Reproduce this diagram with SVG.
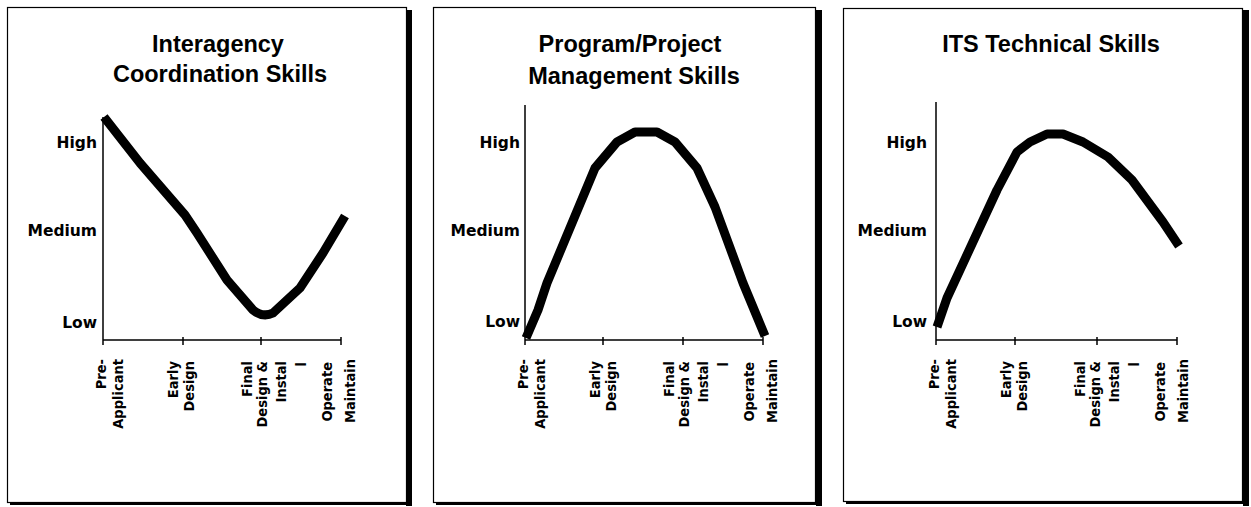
<svg xmlns="http://www.w3.org/2000/svg" width="1251" height="507" viewBox="0 0 1251 507">
<style>
.panel{fill:#fff;stroke:#000;stroke-width:1.2}
.shadow{fill:#000}
.title{font-family:"Liberation Sans",Arial,sans-serif;font-weight:bold;font-size:23.5px;text-anchor:middle;fill:#000}
.ylab{font-family:"DejaVu Sans",sans-serif;font-weight:bold;font-size:15.5px;text-anchor:end;fill:#000}
.xlab{font-family:"DejaVu Sans Condensed","DejaVu Sans",sans-serif;font-stretch:condensed;font-weight:bold;font-size:14.5px;text-anchor:end;fill:#000}
.axis{stroke:#000;stroke-width:1.5;fill:none}
.curve{stroke:#000;stroke-width:9;fill:none;stroke-linejoin:round;stroke-linecap:butt}
</style>
<rect width="1251" height="507" fill="#fff"/>

<g id="panel1">
  <rect class="shadow" x="406" y="10" width="6" height="496"/>
  <rect class="shadow" x="10" y="503" width="400" height="2"/>
  <rect class="panel" x="7.5" y="7.5" width="399" height="495"/>
  <text class="title" x="218" y="52">Interagency</text>
  <text class="title" x="220" y="82">Coordination Skills</text>
  <text class="ylab" x="97" y="148">High</text>
  <text class="ylab" x="97" y="236">Medium</text>
  <text class="ylab" x="97" y="328">Low</text>
  <path class="axis" d="M103,117 V340 H341 M103,337 V345 M183,337 V345 M261,337 V345 M341,337 V345"/>
  <g class="xlabs">
    <text class="xlab" transform="translate(106,359) rotate(-90)">Pre-</text>
    <text class="xlab" transform="translate(123,359) rotate(-90)">Applicant</text>
    <text class="xlab" transform="translate(178,361) rotate(-90)">Early</text>
    <text class="xlab" transform="translate(194,361) rotate(-90)">Design</text>
    <text class="xlab" transform="translate(252,361) rotate(-90)">Final</text>
    <text class="xlab" transform="translate(267,361) rotate(-90)">Design &amp;</text>
    <text class="xlab" transform="translate(286,361) rotate(-90)">Instal</text>
    <text class="xlab" transform="translate(306,362) rotate(-90)">l</text>
    <text class="xlab" transform="translate(332,362) rotate(-90)">Operate</text>
    <text class="xlab" transform="translate(355,359) rotate(-90)" textLength="64" lengthAdjust="spacingAndGlyphs">Maintain</text>
  </g>
</g>

<g id="panel2">
  <rect class="shadow" x="816" y="10" width="6" height="496"/>
  <rect class="shadow" x="436" y="503" width="384" height="2"/>
  <rect class="panel" x="433.5" y="7.5" width="382" height="495"/>
  <text class="title" x="630" y="52">Program/Project</text>
  <text class="title" x="634" y="84">Management Skills</text>
  <text class="ylab" x="520" y="148">High</text>
  <text class="ylab" x="520" y="236">Medium</text>
  <text class="ylab" x="520" y="327">Low</text>
  <path class="axis" d="M525,105 V340 H763 M525,337 V345 M603,337 V345 M683,337 V345 M763,337 V345"/>
  <g class="xlabs">
    <text class="xlab" transform="translate(528,359) rotate(-90)">Pre-</text>
    <text class="xlab" transform="translate(545,359) rotate(-90)">Applicant</text>
    <text class="xlab" transform="translate(600,361) rotate(-90)">Early</text>
    <text class="xlab" transform="translate(616,361) rotate(-90)">Design</text>
    <text class="xlab" transform="translate(674,361) rotate(-90)">Final</text>
    <text class="xlab" transform="translate(689,361) rotate(-90)">Design &amp;</text>
    <text class="xlab" transform="translate(708,361) rotate(-90)">Instal</text>
    <text class="xlab" transform="translate(728,362) rotate(-90)">l</text>
    <text class="xlab" transform="translate(754,362) rotate(-90)">Operate</text>
    <text class="xlab" transform="translate(777,359) rotate(-90)" textLength="64" lengthAdjust="spacingAndGlyphs">Maintain</text>
  </g>
</g>

<g id="panel3">
  <rect class="shadow" x="1243" y="10" width="6" height="496"/>
  <rect class="shadow" x="846" y="502" width="401" height="2"/>
  <rect class="panel" x="843.5" y="8.5" width="399" height="493"/>
  <text class="title" x="1051" y="52">ITS Technical Skills</text>
  <text class="ylab" x="927" y="148">High</text>
  <text class="ylab" x="927" y="236">Medium</text>
  <text class="ylab" x="927" y="327">Low</text>
  <path class="axis" d="M936,102 V340 H1177 M936,337 V345 M1015,337 V345 M1097,337 V345 M1177,337 V345"/>
  <g class="xlabs">
    <text class="xlab" transform="translate(939,359) rotate(-90)">Pre-</text>
    <text class="xlab" transform="translate(956,359) rotate(-90)">Applicant</text>
    <text class="xlab" transform="translate(1011,361) rotate(-90)">Early</text>
    <text class="xlab" transform="translate(1027,361) rotate(-90)">Design</text>
    <text class="xlab" transform="translate(1085,361) rotate(-90)">Final</text>
    <text class="xlab" transform="translate(1100,361) rotate(-90)">Design &amp;</text>
    <text class="xlab" transform="translate(1119,361) rotate(-90)">Instal</text>
    <text class="xlab" transform="translate(1139,362) rotate(-90)">l</text>
    <text class="xlab" transform="translate(1165,362) rotate(-90)">Operate</text>
    <text class="xlab" transform="translate(1188,359) rotate(-90)" textLength="64" lengthAdjust="spacingAndGlyphs">Maintain</text>
  </g>
</g>

<g id="connectors">
  <path class="curve" d="M104,117 L140,163 L185,215 L197,233 L227,280 L253,310 Q263,318 273,313 L300,288 L323,253 L345,216"/>
  <path class="curve" d="M526,338 L538,310 L547,283 L595,168 L617,142 L635,132 L657,132 L675,142 L697,168 L715,207 L743,283 L765,336"/>
  <path class="curve" d="M937,327 L947,298 L997,190 L1017,152 L1030,142 L1047,134 L1063,134 L1083,142 L1108,157 L1132,180 L1163,222 L1179,246"/>
</g>
</svg>
